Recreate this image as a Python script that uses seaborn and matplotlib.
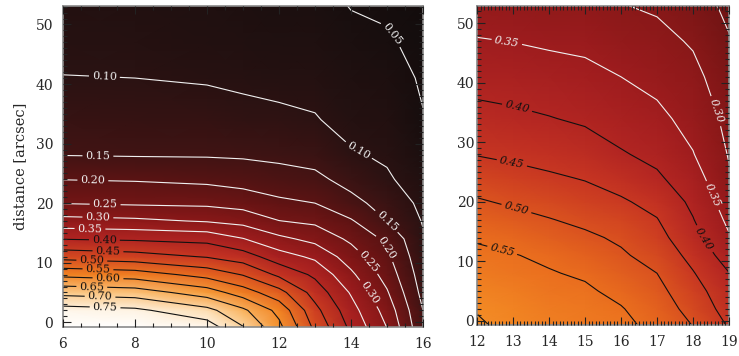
import numpy as np
import matplotlib
matplotlib.use("Agg")
import matplotlib.pyplot as plt
import seaborn as sns
from matplotlib.ticker import MultipleLocator

# distance rows shared by both grids [arcsec]
dist = [-1, 2, 5, 8, 11, 14, 17, 20, 24, 28, 34, 41, 47, 54]

# left panel: columns along x
left_x = [6, 8, 10, 11, 12, 13, 14, 15, 16]
left_field = [
    [0.850, 0.835, 0.780, 0.705, 0.615, 0.490, 0.390, 0.300, 0.160],
    [0.770, 0.760, 0.715, 0.660, 0.585, 0.465, 0.370, 0.280, 0.150],
    [0.685, 0.675, 0.625, 0.575, 0.518, 0.430, 0.345, 0.255, 0.135],
    [0.587, 0.575, 0.532, 0.497, 0.440, 0.390, 0.310, 0.230, 0.125],
    [0.482, 0.470, 0.447, 0.425, 0.372, 0.340, 0.275, 0.210, 0.115],
    [0.398, 0.393, 0.385, 0.352, 0.312, 0.285, 0.240, 0.190, 0.105],
    [0.317, 0.310, 0.296, 0.284, 0.251, 0.240, 0.205, 0.150, 0.097],
    [0.248, 0.243, 0.240, 0.230, 0.210, 0.200, 0.163, 0.133, 0.088],
    [0.199, 0.196, 0.189, 0.180, 0.170, 0.160, 0.135, 0.106, 0.077],
    [0.150, 0.148, 0.147, 0.145, 0.140, 0.135, 0.105, 0.094, 0.066],
    [0.127, 0.125, 0.120, 0.113, 0.110, 0.103, 0.085, 0.080, 0.052],
    [0.101, 0.100, 0.096, 0.092, 0.086, 0.085, 0.073, 0.068, 0.045],
    [0.090, 0.088, 0.083, 0.079, 0.072, 0.072, 0.060, 0.055, 0.038],
    [0.080, 0.078, 0.072, 0.068, 0.062, 0.061, 0.047, 0.042, 0.030],
]

# right panel
right_x = [12, 13, 14, 15, 16, 17, 18, 19]
right_field = [
    [0.605, 0.592, 0.580, 0.570, 0.565, 0.535, 0.500, 0.447],
    [0.598, 0.585, 0.572, 0.565, 0.553, 0.525, 0.484, 0.430],
    [0.585, 0.575, 0.563, 0.557, 0.538, 0.513, 0.470, 0.417],
    [0.572, 0.563, 0.553, 0.544, 0.522, 0.500, 0.453, 0.401],
    [0.560, 0.552, 0.542, 0.526, 0.506, 0.483, 0.435, 0.378],
    [0.545, 0.536, 0.524, 0.508, 0.493, 0.466, 0.417, 0.354],
    [0.525, 0.515, 0.502, 0.490, 0.475, 0.452, 0.402, 0.340],
    [0.505, 0.493, 0.483, 0.471, 0.456, 0.435, 0.390, 0.326],
    [0.476, 0.466, 0.457, 0.447, 0.430, 0.407, 0.373, 0.305],
    [0.448, 0.441, 0.432, 0.424, 0.404, 0.388, 0.352, 0.297],
    [0.416, 0.410, 0.402, 0.393, 0.378, 0.362, 0.333, 0.287],
    [0.381, 0.376, 0.370, 0.363, 0.350, 0.335, 0.313, 0.272],
    [0.353, 0.349, 0.343, 0.339, 0.325, 0.314, 0.295, 0.253],
    [0.320, 0.318, 0.312, 0.310, 0.298, 0.290, 0.268, 0.238],
]

left_levels = [0.05, 0.10, 0.15, 0.20, 0.25, 0.30, 0.35, 0.40, 0.45,
               0.50, 0.55, 0.60, 0.65, 0.70, 0.75]
right_levels = [0.25, 0.30, 0.35, 0.40, 0.45, 0.50, 0.55, 0.60]

# where the contour labels sit (level, x, y)
left_label_pos = [
    (0.10, 7.15, 41.2), (0.15, 6.97, 28.0), (0.20, 6.83, 24.2),
    (0.25, 7.17, 20.0), (0.30, 6.97, 17.8), (0.35, 6.75, 16.0),
    (0.40, 7.15, 13.9), (0.45, 7.25, 12.1), (0.50, 6.80, 10.3),
    (0.55, 6.97, 8.7), (0.60, 7.25, 7.4), (0.65, 6.80, 5.9),
    (0.70, 7.03, 4.5), (0.75, 7.17, 2.7),
    (0.05, 15.17, 48.6), (0.10, 14.17, 28.4), (0.15, 15.08, 17.6),
    (0.20, 15.06, 12.9), (0.25, 14.60, 10.8), (0.30, 14.86, 6.2),
]
right_label_pos = [
    (0.35, 12.83, 46.9), (0.40, 13.10, 35.5), (0.45, 12.97, 26.6),
    (0.50, 13.10, 19.0), (0.55, 12.72, 12.3),
    (0.30, 18.53, 35.0), (0.35, 18.42, 20.7), (0.40, 18.39, 14.1),
]

# colour ramp, 0.00 .. 0.85 in 0.05 steps
ramp = ["#0d0a0a", "#170e0e", "#2a1212", "#421313", "#5c1313", "#741515",
        "#8a1818", "#9e1c1e", "#b22522", "#c83622", "#da521f", "#ea6e1e",
        "#f38a24", "#f8aa4c", "#fcd49c", "#fef0dc", "#ffffff", "#ffffff"]
cmap = sns.blend_palette(ramp, as_cmap=True)

sns.set_style("ticks")
plt.rcParams["font.family"] = ["DejaVu Serif"]

fig = plt.figure(figsize=(7.39, 3.56), dpi=100)
ax1 = fig.add_axes([63 / 739, 1 - 327 / 356, 360 / 739, 321 / 356])
ax2 = fig.add_axes([477 / 739, 1 - 325 / 356, 252 / 739, 319 / 356])


def draw(ax, xs, field, levels, label_pos, xlim, ylim, italic):
    X, Y = np.meshgrid(xs, dist)
    Z = np.array(field)
    ax.pcolormesh(X, Y, Z, shading="gouraud", cmap=cmap, vmin=0, vmax=0.85)
    for lv in levels:
        col = "#f0f0f0" if lv <= 0.35 else "#111111"
        cs = ax.contour(X, Y, Z, levels=[lv], colors=[col], linewidths=0.8)
        spots = [(lx, ly) for l, lx, ly in label_pos if abs(l - lv) < 1e-6]
        if not spots or len(cs.allsegs[0]) == 0:
            continue
        texts = ax.clabel(cs, manual=spots, fmt="%.2f", fontsize=8,
                          colors=[col], inline=True, inline_spacing=3)
        if italic:
            for t in texts:
                t.set_style("italic")
    ax.set_xlim(*xlim)
    ax.set_ylim(*ylim)
    ax.set_axisbelow(False)
    for sp in ax.spines.values():
        sp.set_color("#8a8a8a")
        sp.set_linewidth(1.2)
    ax.tick_params(which="both", direction="in", top=True, right=True,
                   color="#222222", width=0.8, labelsize=10)
    ax.tick_params(which="major", length=6)
    ax.tick_params(which="minor", length=3)


draw(ax1, left_x, left_field, left_levels, left_label_pos,
     (6, 16), (-0.8, 53.1), False)
ax1.xaxis.set_major_locator(MultipleLocator(2))
ax1.xaxis.set_minor_locator(MultipleLocator(0.5))
ax1.yaxis.set_major_locator(MultipleLocator(10))
ax1.yaxis.set_minor_locator(MultipleLocator(1))
ax1.tick_params(axis="x", pad=7)
ax1.tick_params(axis="y", pad=7)
ax1.set_ylabel("distance [arcsec]", fontsize=10.5, labelpad=6)

draw(ax2, right_x, right_field, right_levels, right_label_pos,
     (12, 19), (-0.7, 52.9), True)
ax2.xaxis.set_major_locator(MultipleLocator(1))
ax2.xaxis.set_minor_locator(MultipleLocator(0.1))
ax2.yaxis.set_major_locator(MultipleLocator(10))
ax2.yaxis.set_minor_locator(MultipleLocator(1))
ax2.tick_params(axis="x", pad=7)
ax2.tick_params(axis="y", pad=2)

fig.savefig("out.png", dpi=100)
